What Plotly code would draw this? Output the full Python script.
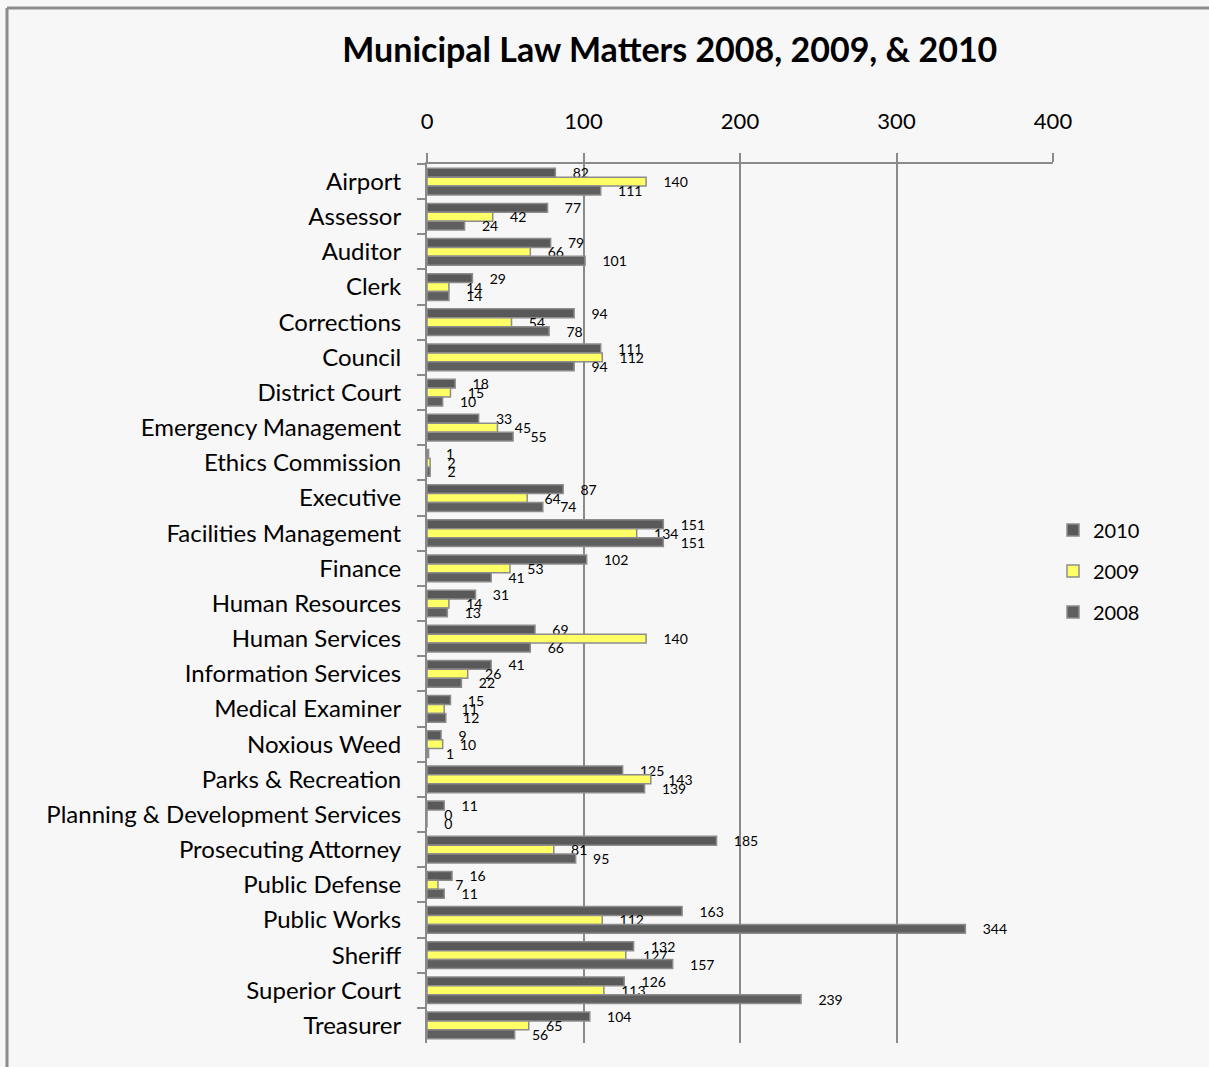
import plotly.graph_objects as go

# Matters handled per client department, by year
departments = [
    "Airport", "Assessor", "Auditor", "Clerk", "Corrections", "Council",
    "District Court", "Emergency Management", "Ethics Commission", "Executive",
    "Facilities Management", "Finance", "Human Resources", "Human Services",
    "Information Services", "Medical Examiner", "Noxious Weed",
    "Parks & Recreation", "Planning & Development Services",
    "Prosecuting Attorney", "Public Defense", "Public Works", "Sheriff",
    "Superior Court", "Treasurer",
]
matters_2010 = [82, 77, 79, 29, 94, 111, 18, 33, 1, 87, 151, 102, 31, 69, 41,
                15, 9, 125, 11, 185, 16, 163, 132, 126, 104]
matters_2009 = [140, 42, 66, 14, 54, 112, 15, 45, 2, 64, 134, 53, 14, 140, 26,
                11, 10, 143, 0, 81, 7, 112, 127, 113, 65]
matters_2008 = [111, 24, 101, 14, 78, 94, 10, 55, 2, 74, 151, 41, 13, 66, 22,
                12, 1, 139, 0, 95, 11, 344, 157, 239, 56]
x_ticks = [0, 100, 200, 300, 400]

series = [
    ("2010", matters_2010, "#595959"),
    ("2009", matters_2009, "#ffff66"),
    ("2008", matters_2008, "#5f5f5f"),
]

FONT = "Lato, 'DejaVu Sans', sans-serif"
GRID = "#8a8a8a"
BG = "#f7f7f7"

fig = go.Figure()
for name, values, color in series:
    fig.add_trace(go.Bar(
        name=name,
        y=departments,
        x=values,
        orientation="h",
        marker=dict(color=color, line=dict(color="#8c8c8c", width=1.5)),
        texttemplate="\u00a0\u00a0\u00a0\u00a0%{x}",
        textposition="outside",
        constraintext="none",
        cliponaxis=False,
        textfont=dict(family=FONT, size=14, color="#000000"),
        legendgroup=name,
    ))

fig.update_layout(
    width=1209,
    height=1067,
    barmode="group",
    bargap=0.24,
    bargroupgap=0.0,
    paper_bgcolor=BG,
    plot_bgcolor=BG,
    margin=dict(l=427, r=156, t=164, b=24),
    font=dict(family=FONT, color="#000000"),
    title=dict(
        text="<b>Municipal Law Matters 2008, 2009, & 2010</b>",
        font=dict(family=FONT, size=34, color="#000000"),
        x=0.554, xanchor="center",
        y=0.953, yanchor="middle",
    ),
    legend=dict(
        x=1.0, xanchor="left",
        y=0.537, yanchor="middle",
        font=dict(family=FONT, size=20, color="#000000"),
        traceorder="grouped",
        tracegroupgap=12,
        itemwidth=30,
        bgcolor="rgba(0,0,0,0)",
    ),
    xaxis=dict(
        side="top",
        range=[0, 400],
        tickvals=x_ticks,
        ticktext=[str(t) for t in x_ticks],
        tickfont=dict(family=FONT, size=22, color="#000000"),
        showgrid=True,
        gridcolor=GRID,
        gridwidth=2,
        zeroline=False,
        showline=True,
        linecolor=GRID,
        linewidth=2,
        ticks="outside",
        ticklen=9,
        tickcolor=GRID,
        tickwidth=2,
        ticklabelstandoff=15,
        fixedrange=True,
    ),
    yaxis=dict(
        categoryorder="array",
        categoryarray=departments,
        autorange="reversed",
        tickfont=dict(family=FONT, size=24, color="#000000"),
        showgrid=False,
        showline=True,
        linecolor=GRID,
        linewidth=2,
        ticks="outside",
        tickson="boundaries",
        ticklen=8,
        tickcolor=GRID,
        tickwidth=2,
        ticklabelstandoff=19,
        fixedrange=True,
    ),
    shapes=[
        # chart frame: left and top edges
        dict(type="line", xref="paper", yref="paper",
             x0=(7 - 427) / 626, x1=(7 - 427) / 626,
             y0=(1043 - 8) / 879, y1=(1043 - 1067) / 879,
             line=dict(color="#8c8c8c", width=3)),
        dict(type="line", xref="paper", yref="paper",
             x0=(7 - 427) / 626, x1=(1209 - 427) / 626,
             y0=(1043 - 8) / 879, y1=(1043 - 8) / 879,
             line=dict(color="#8c8c8c", width=3)),
    ],
)

fig.write_html("out.html")
